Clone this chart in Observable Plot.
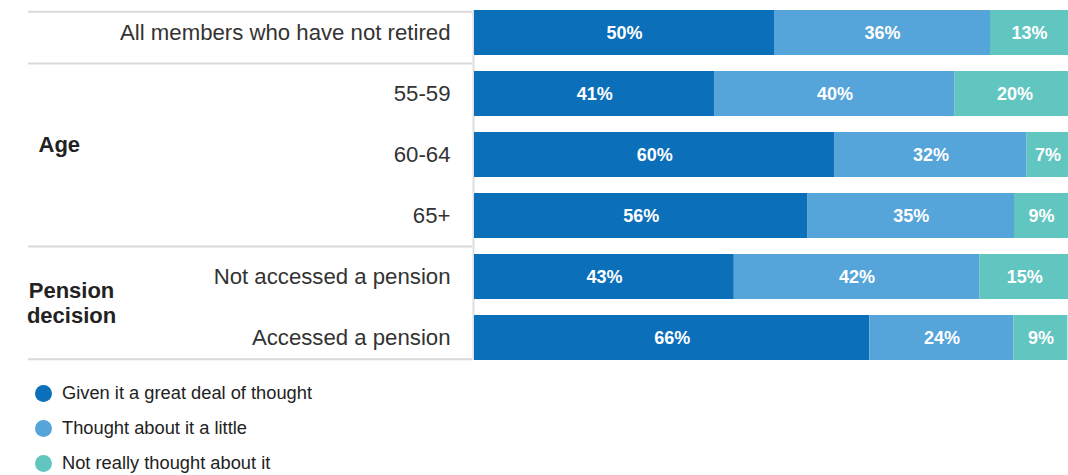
<!DOCTYPE html>
<html>
<head>
<meta charset="utf-8">
<script src="https://cdn.jsdelivr.net/npm/d3@7"></script>
<script src="https://cdn.jsdelivr.net/npm/@observablehq/plot@0.6"></script>
<style>
  html, body { margin: 0; padding: 0; background: #fff; overflow: hidden; }
  body { font-family: "Liberation Sans", Arial, sans-serif; width: 1068px; }
  #legend { padding-top: 3.5px; }
  .item { height: 35px; display: flex; align-items: center; font-size: 18.3px; color: #222; }
  .dot { width: 17px; height: 17px; border-radius: 50%; margin-left: 34.5px; margin-right: 10.5px; }
</style>
</head>
<body>
<div id="chart"></div>
<div id="legend"></div>
<script>
const rows = [
  "All members who have not retired",
  "55-59",
  "60-64",
  "65+",
  "Not accessed a pension",
  "Accessed a pension"
];
const categories = [
  "Given it a great deal of thought",
  "Thought about it a little",
  "Not really thought about it"
];
const colors = ["#0b6fba", "#55a4da", "#61c5c0"];
// segment sizes
const greatDeal = [50, 40.1, 60.1, 55.6, 43.3, 65.9];
const aLittle   = [36, 40.0, 32.0, 34.4, 40.9, 24.0];
const notReally = [13, 20, 7, 9, 15, 9];
// printed labels
const greatDealLabels = ["50%", "41%", "60%", "56%", "43%", "66%"];
const aLittleLabels   = ["36%", "40%", "32%", "35%", "42%", "24%"];
const notReallyLabels = ["13%", "20%", "7%", "9%", "15%", "9%"];
const groups = [
  {label: "Age", row: "60-64"},
  {label: "Pension\ndecision", row: "Not accessed a pension"}
];

const series = [greatDeal, aLittle, notReally];
const labels = [greatDealLabels, aLittleLabels, notReallyLabels];
const data = [];
rows.forEach((r, i) => {
  categories.forEach((c, j) => {
    data.push({row: r, category: c, value: series[j][i], label: labels[j][i]});
  });
});

const font = '"Liberation Sans", Arial, sans-serif';
const sepStyle = {stroke: "#dadada", strokeWidth: 2, insetRight: 596};

const chart = Plot.plot({
  width: 1068,
  height: 372,
  marginLeft: 28,
  marginRight: 0,
  marginTop: 10,
  marginBottom: 12,
  style: {fontFamily: font, background: "#fff"},
  x: {domain: [0, 99], range: [474, 1068], axis: null},
  y: {domain: rows, paddingInner: 0.27, paddingOuter: 0, axis: null},
  color: {domain: categories, range: colors},
  marks: [
    Plot.ruleY([rows[0]], {...sepStyle, dy: -21.3}),
    Plot.ruleY([rows[0], rows[3]], {...sepStyle, dy: 30.5}),
    Plot.ruleY([rows[5]], {...sepStyle, dy: 21.3}),
    Plot.ruleX([0], {stroke: "#dedede", strokeWidth: 2, dx: -1}),
    Plot.barX(data, Plot.stackX({
      x: "value", y: "row", fill: "category", order: categories, clip: true
    })),
    Plot.text(data, Plot.stackX({
      x: "value", y: "row", z: "category", order: categories,
      text: "label", fill: "white", fontWeight: "bold", fontSize: 18
    })),
    Plot.text(rows, {
      x: () => 0, y: d => d, text: d => d, textAnchor: "end", dx: -24,
      fontSize: 22.2, fill: "#333"
    }),
    Plot.text(groups.slice(0, 1), {
      y: "row", text: "label", frameAnchor: "left", textAnchor: "start", dx: 10, dy: -10,
      fontSize: 22, fontWeight: "bold", fill: "#222"
    }),
    Plot.text(groups.slice(1), {
      y: "row", text: "label", frameAnchor: "left", textAnchor: "middle", dx: 43, dy: 25,
      fontSize: 22, fontWeight: "bold", fill: "#222", lineHeight: 1.14
    })
  ]
});
document.getElementById("chart").appendChild(chart);

const legend = document.getElementById("legend");
categories.forEach((c, i) => {
  const item = document.createElement("div");
  item.className = "item";
  const dot = document.createElement("span");
  dot.className = "dot";
  dot.style.background = colors[i];
  const label = document.createElement("span");
  label.textContent = c;
  item.appendChild(dot);
  item.appendChild(label);
  legend.appendChild(item);
});
</script>
</body>
</html>
